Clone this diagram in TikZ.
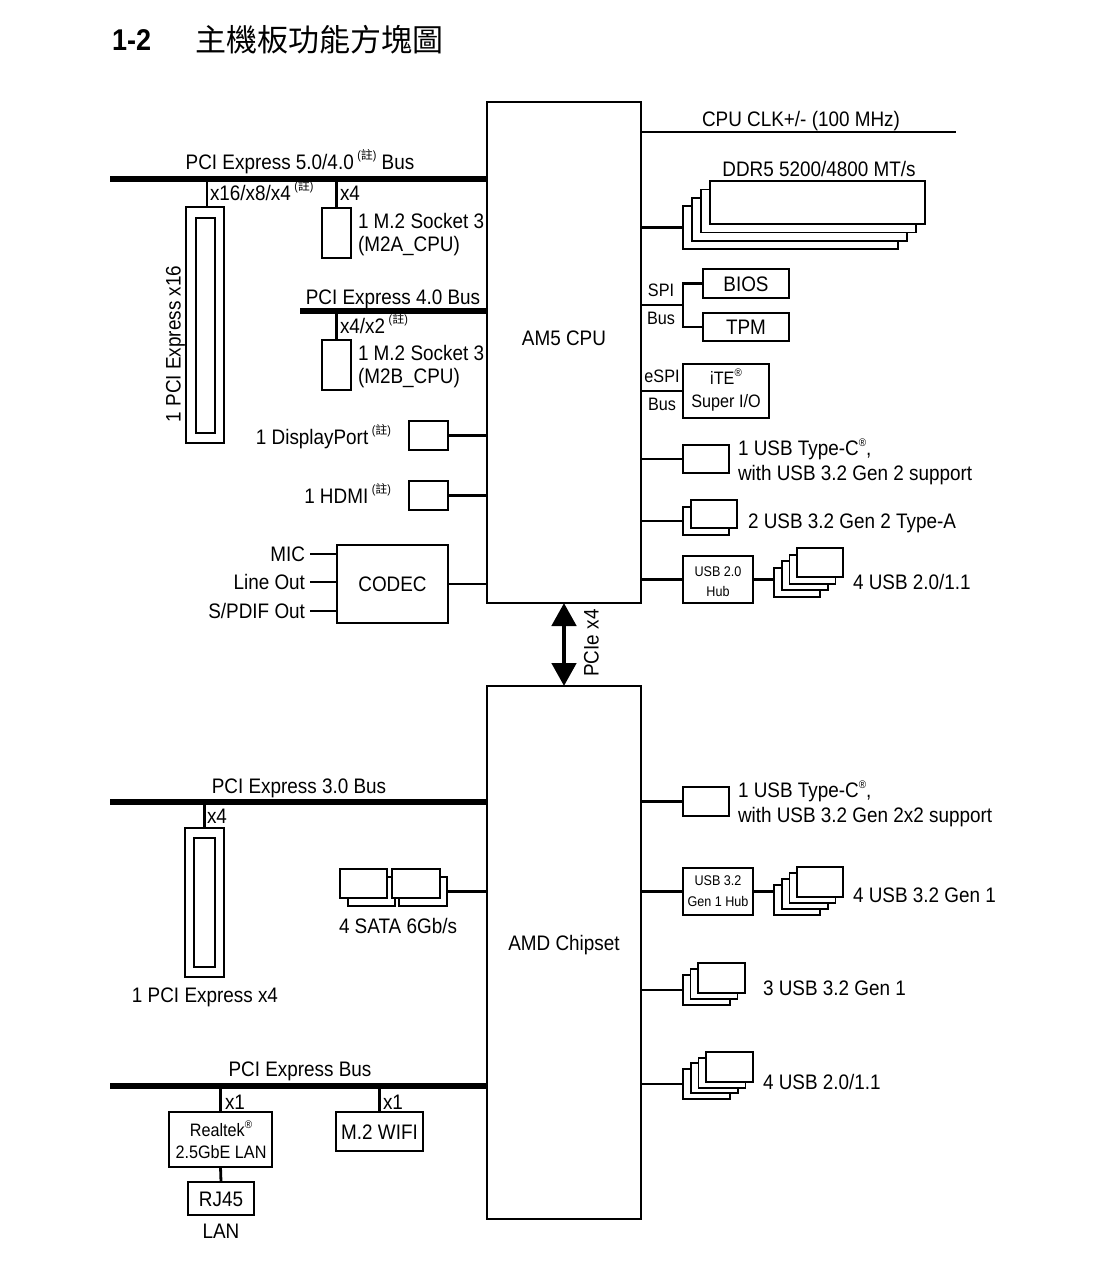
\documentclass[tikz,border=0pt]{standalone}
\usepackage{fontspec}
\setmainfont{Liberation Sans}[FakeStretch=0.9]
\newfontfamily\cjk{Noto Sans CJK TC}
\usetikzlibrary{arrows.meta}
\newcommand\zhu{\,\raisebox{0.5em}{\fontsize{6pt}{6pt}\selectfont({\cjk 註})}}
\newcommand\reg{\raisebox{0.45em}{\fontsize{5.5pt}{6pt}\selectfont\char"00AE}}
% \rbox[opts]{name}{x1}{y1}{x2}{y2}{text}
\newcommand\rbox[7][]{%
  \node[bx,#1,minimum width={(#5-#3)*0.5pt},minimum height={(#6-#4)*0.5pt}] (#2) at ({(#3+#5)/2},{(#4+#6)/2}) {#7};}
% \stk{name}{n}{x0}{y0}{w}{h}{dx}{dy}
\newcommand\stk[8]{%
  \foreach \i in {1,...,#2}{%
    \node[thinbox,anchor=north west,minimum width={#5*0.5pt},minimum height={#6*0.5pt}] (#1-\i) at ({#3+(\i-1)*#7},{#4-(\i-1)*#8}) {};
  }}
\begin{document}
\begin{tikzpicture}[x=0.5pt,y=-0.5pt,
  t/.style={inner sep=0pt, outer sep=0pt, font=\fontsize{10.5pt}{12pt}\selectfont, text height=7.6pt, text depth=0pt},
  ts/.style={t, font=\fontsize{9pt}{10pt}\selectfont, text height=6.5pt},
  th/.style={t, font=\fontsize{7pt}{8pt}\selectfont, text height=5.1pt},
  bx/.style={draw, fill=white, line width=1pt, inner sep=0pt, outer sep=0pt, font=\fontsize{10.5pt}{12pt}\selectfont, text height=7.6pt, text depth=0pt},
  big/.style={line width=1.3pt},
  thinbox/.style={bx, line width=0.9pt},
  bus/.style={line width=3pt},
  conn/.style={line width=1.4pt},
  dbl/.style={line width=2.4pt, {Triangle[width=12pt,length=11.5pt]}-{Triangle[width=12pt,length=11.5pt]}}
]
\path[use as bounding box, fill=white] (0,0) rectangle (1116,1280);

% title
\node[t, anchor=west, font=\bfseries\fontsize{15pt}{16pt}\selectfont, text height=10.8pt] (num) at (112,40) {1-2};
\node[anchor=west, inner sep=0pt, font=\cjk\fontsize{15.5pt}{16pt}\selectfont] (title) at (195,40) {主機板功能方塊圖};

% CPU and chipset
\rbox[big]{cpu}{487}{102}{641}{603}{}
\node[t] (cpul) at (564,338) {AM5 CPU};
\rbox[big]{chip}{487}{686}{641}{1219}{}
\node[t] (chipl) at (564,943) {AMD Chipset};
\draw[dbl] (cpu.south) -- (chip.north);
\node[t, rotate=90] (pcie) at (591,643) {PCIe x4};

% ---- CPU left side
\coordinate (b1) at (110,179);
\draw[bus] (b1) -- (b1 -| cpu.west);
\node[t] (b1l) at (300,162) {PCI Express 5.0/4.0\zhu\ Bus};
\rbox{s16}{186}{207}{224}{443}{}
\rbox{s16i}{196}{218}{215}{433}{}
\draw[conn] ([xshift=1pt]s16.north) -- ([xshift=1pt]s16.north |- b1);
\node[t, anchor=west] (x16) at (210,193) {x16/x8/x4\zhu};
\node[t, rotate=90] (s16l) at (173,344) {1 PCI Express x16};
\rbox{m2a}{322}{208}{351}{258}{}
\draw[conn] (m2a.north) -- (m2a.north |- b1);
\node[t, anchor=west] (x4a) at (340,193) {x4};
\node[t, anchor=west] (m2al1) at (358,221) {1 M.2 Socket 3};
\node[t, anchor=west] (m2al2) at (358,244) {(M2A\_CPU)};

\coordinate (b2) at (300,311);
\draw[bus] (b2) -- (b2 -| cpu.west);
\node[t] (b2l) at (393,297) {PCI Express 4.0 Bus};
\rbox{m2b}{322}{340}{351}{390}{}
\draw[conn] (m2b.north) -- (m2b.north |- b2);
\node[t, anchor=west] (x4b) at (340,326) {x4/x2\zhu};
\node[t, anchor=west] (m2bl1) at (358,353) {1 M.2 Socket 3};
\node[t, anchor=west] (m2bl2) at (358,376) {(M2B\_CPU)};

\rbox{dp}{409}{421}{448}{450}{}
\draw[conn] (dp.east) -- (dp.east -| cpu.west);
\node[t, anchor=east] (dpl) at (391,437) {1 DisplayPort\zhu};
\rbox{hdmi}{409}{481}{448}{510}{}
\draw[conn] (hdmi.east) -- (hdmi.east -| cpu.west);
\node[t, anchor=east] (hdmil) at (391,496) {1 HDMI\zhu};

\rbox{codec}{337}{545}{448}{623}{CODEC}
\draw[conn] (codec.east) -- (codec.east -| cpu.west);
\node[t, anchor=east] (mic) at (305,554) {MIC};
\node[t, anchor=east] (lo) at (305,582) {Line Out};
\node[t, anchor=east] (sp) at (305,611) {S/PDIF Out};
\foreach \n in {mic,lo,sp} \draw[conn] ([xshift=2.5pt]\n.east) -- (\n.east -| codec.west);

% ---- CPU right side
\coordinate (clk) at (956,132);
\draw[conn] (clk -| cpu.east) -- (clk);
\node[t] (clkl) at (801,119) {CPU CLK+/- (100 MHz)};

\stk{ddr}{4}{683}{206}{215}{43}{9}{8.3}
\draw[conn] (ddr-1.west) -- (ddr-1.west -| cpu.east);
\node[t] (ddrl) at (819,169) {DDR5 5200/4800 MT/s};

\rbox{bios}{703}{269}{789}{298}{BIOS}
\rbox{tpm}{703}{313}{789}{341}{TPM}
\coordinate (spi) at (683,305);
\draw[conn] (spi -| cpu.east) -- (spi);
\draw[conn, line join=miter] (bios.west) -| (spi) |- (tpm.west);
\node[ts] (spil) at (661,290) {SPI};
\node[ts] (spib) at (661,318) {Bus};

\rbox{sio}{683}{364}{769}{418}{}
\draw[conn] (sio.west) -- (sio.west -| cpu.east);
\node[ts] (espil) at (662,376) {eSPI};
\node[ts] (espib) at (662,404) {Bus};
\node[ts] (ite) at (726,378) {iTE\reg};
\node[ts] (siol) at (726,401) {Super I/O};

\rbox{tc1}{683}{445}{729}{473}{}
\draw[conn] (tc1.west) -- (tc1.west -| cpu.east);
\node[t, anchor=west] (tc1a) at (738,448) {1 USB Type-C\reg,};
\node[t, anchor=west] (tc1b) at (738,473) {with USB 3.2 Gen 2 support};

\stk{ta}{2}{683}{507}{46}{28}{8}{7}
\draw[conn] (ta-1.west) -- (ta-1.west -| cpu.east);
\node[t, anchor=west] (tal) at (748,521) {2 USB 3.2 Gen 2 Type-A};

\rbox{hub1}{683}{556}{753}{603}{}
\node[th] (hub1a) at (718,571) {USB 2.0};
\node[th] (hub1b) at (718,591) {Hub};
\draw[conn] (hub1.west) -- (hub1.west -| cpu.east);
\stk{ua}{4}{774}{568}{46}{29}{7.7}{6.7}
\draw[conn] (hub1.east) -- (hub1.east -| ua-1.west);
\node[t, anchor=west] (ual) at (853,582) {4 USB 2.0/1.1};

% ---- chipset left side
\coordinate (b3) at (110,802);
\draw[bus] (b3) -- (b3 -| chip.west);
\node[t] (b3l) at (299,786) {PCI Express 3.0 Bus};
\rbox{s4}{185}{828}{224}{977}{}
\rbox{s4i}{194}{838}{215}{967}{}
\draw[conn] (s4.north) -- (s4.north |- b3);
\node[t, anchor=west] (x4c) at (207,816) {x4};
\node[t] (s4l) at (205,995) {1 PCI Express x4};

\stk{sa}{2}{348}{877}{47}{29}{-8}{8}
\stk{sb}{2}{399}{877}{48}{29}{-7}{8}
\draw[conn] (sb-1.east) -- (sb-1.east -| chip.west);
\node[t] (satal) at (398,926) {4 SATA 6Gb/s};

\coordinate (b4) at (110,1086);
\draw[bus] (b4) -- (b4 -| chip.west);
\node[t] (b4l) at (300,1069) {PCI Express Bus};
\rbox{rtk}{169}{1112}{272}{1167}{}
\draw[conn] (rtk.north) -- (rtk.north |- b4);
\node[t, anchor=west] (x1a) at (225,1102) {x1};
\node[ts] (rtka) at (221,1130) {Realtek\reg};
\node[ts] (rtkb) at (221,1152) {2.5GbE LAN};
\rbox{rj}{188}{1182}{254}{1215}{RJ45}
\draw[conn] (rtk.south) -- (rj.north);
\node[t] (lan) at (221,1231) {LAN};
\rbox{wifi}{336}{1112}{423}{1151}{M.2 WIFI}
\draw[conn] (wifi.north) -- (wifi.north |- b4);
\node[t, anchor=west] (x1b) at (383,1102) {x1};

% ---- chipset right side
\rbox{tc2}{683}{787}{729}{816}{}
\draw[conn] (tc2.west) -- (tc2.west -| chip.east);
\node[t, anchor=west] (tc2a) at (738,790) {1 USB Type-C\reg,};
\node[t, anchor=west] (tc2b) at (738,815) {with USB 3.2 Gen 2x2 support};

\rbox{hub2}{683}{868}{753}{915}{}
\node[th] (hub2a) at (718,880) {USB 3.2};
\node[th] (hub2b) at (718,901) {Gen 1 Hub};
\draw[conn] (hub2.west) -- (hub2.west -| chip.east);
\stk{ub}{4}{774}{885}{46}{30}{7.7}{6}
\draw[conn] (hub2.east) -- (hub2.east -| ub-1.west);
\node[t, anchor=west] (ubl) at (853,895) {4 USB 3.2 Gen 1};

\stk{uc}{3}{683}{975}{47}{30}{7.5}{6}
\draw[conn] (uc-1.west) -- (uc-1.west -| chip.east);
\node[t, anchor=west] (ucl) at (763,988) {3 USB 3.2 Gen 1};

\stk{ud}{4}{683}{1069}{47}{30}{7.7}{5.7}
\draw[conn] (ud-1.west) -- (ud-1.west -| chip.east);
\node[t, anchor=west] (udl) at (763,1082) {4 USB 2.0/1.1};
\end{tikzpicture}
\end{document}
